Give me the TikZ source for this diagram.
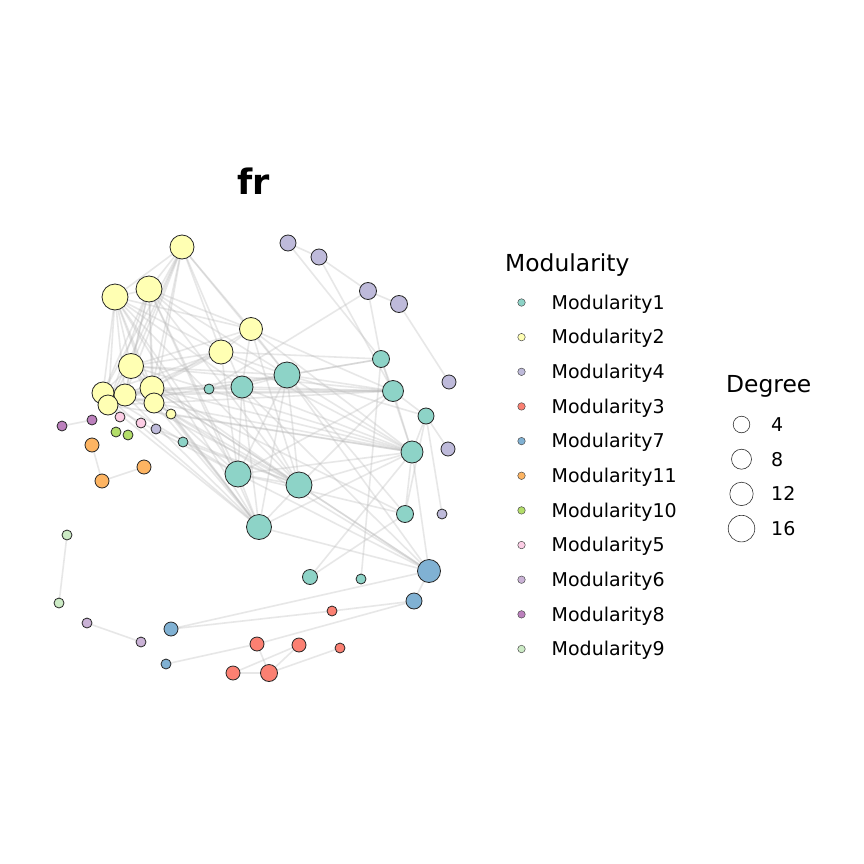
\documentclass[tikz,border=0pt]{standalone}
\usepackage{fontspec}
\setmainfont{DejaVu Sans}
\usetikzlibrary{backgrounds}
\pgfdeclarelayer{canvas}
\pgfsetlayers{canvas,background,main}
\definecolor{cA}{HTML}{8DD3C7}
\definecolor{cB}{HTML}{FFFFB3}
\definecolor{cC}{HTML}{BEBADA}
\definecolor{cD}{HTML}{FB8072}
\definecolor{cE}{HTML}{80B1D3}
\definecolor{cF}{HTML}{FDB462}
\definecolor{cG}{HTML}{B3DE69}
\definecolor{cH}{HTML}{FCCDE5}
\definecolor{cI}{HTML}{CAB2D6}
\definecolor{cJ}{HTML}{BC80BD}
\definecolor{cK}{HTML}{CCEBC5}
\definecolor{edgegray}{RGB}{185,185,185}
\tikzset{
  nd/.style={circle, draw=black!85, line width=0.8pt, inner sep=0pt, outer sep=0pt},
  edge/.style={draw=edgegray, line width=1.6pt, opacity=0.33},
  lg/.style={circle, draw=black!70, line width=0.5pt, inner sep=0pt, minimum size=7.5pt},
  dg/.style={circle, draw=black!80, line width=0.6pt, inner sep=0pt, fill=white},
  lbl/.style={anchor=base west, inner sep=0pt, font=\fontsize{19}{21}\selectfont},
  ttl/.style={anchor=base west, inner sep=0pt, font=\fontsize{23.4}{26}\selectfont}
}
\begin{document}
\begin{tikzpicture}[x=1pt,y=-1pt]
\useasboundingbox (0,0) rectangle (864,864);
\begin{pgfonlayer}{canvas}
\fill[white] (0,0) rectangle (864,864);
\end{pgfonlayer}
% title
\node[anchor=base, inner sep=0pt, font=\bfseries\fontsize{35}{40}\selectfont] (title) at (254,194) {fr};
% yellow (Modularity2)
\node[nd, fill=cB, minimum size=24] (Y1) at (182,247) {};
\node[nd, fill=cB, minimum size=26] (Y2) at (115,297) {};
\node[nd, fill=cB, minimum size=26] (Y3) at (149,289) {};
\node[nd, fill=cB, minimum size=23] (Y4) at (251,329) {};
\node[nd, fill=cB, minimum size=24] (Y5) at (221,352) {};
\node[nd, fill=cB, minimum size=25] (Y6) at (131,366) {};
\node[nd, fill=cB, minimum size=22] (Y7) at (103,393) {};
\node[nd, fill=cB, minimum size=22] (Y8) at (125,395) {};
\node[nd, fill=cB, minimum size=24] (Y9) at (152,388) {};
\node[nd, fill=cB, minimum size=20] (Y10) at (108,405) {};
\node[nd, fill=cB, minimum size=20] (Y11) at (154,403) {};
\node[nd, fill=cB, minimum size=10] (Y12) at (171,414) {};
% teal (Modularity1)
\node[nd, fill=cA, minimum size=10] (T1) at (209,389) {};
\node[nd, fill=cA, minimum size=22] (T2) at (242,387) {};
\node[nd, fill=cA, minimum size=26] (T3) at (287,375) {};
\node[nd, fill=cA, minimum size=17] (T4) at (381,359) {};
\node[nd, fill=cA, minimum size=21] (T5) at (393,391) {};
\node[nd, fill=cA, minimum size=16] (T6) at (426,416) {};
\node[nd, fill=cA, minimum size=22] (T7) at (412,452) {};
\node[nd, fill=cA, minimum size=26] (T8) at (238,474) {};
\node[nd, fill=cA, minimum size=26] (T9) at (299,485) {};
\node[nd, fill=cA, minimum size=25] (T10) at (259,527) {};
\node[nd, fill=cA, minimum size=17] (T11) at (405,514) {};
\node[nd, fill=cA, minimum size=10] (T12) at (183,442) {};
\node[nd, fill=cA, minimum size=15] (T13) at (310,577) {};
\node[nd, fill=cA, minimum size=10] (T14) at (361,579) {};
% lavender (Modularity4)
\node[nd, fill=cC, minimum size=16] (L1) at (288,243) {};
\node[nd, fill=cC, minimum size=16] (L2) at (319,257) {};
\node[nd, fill=cC, minimum size=17] (L3) at (368,291) {};
\node[nd, fill=cC, minimum size=17] (L4) at (399,304) {};
\node[nd, fill=cC, minimum size=14] (L5) at (449,382) {};
\node[nd, fill=cC, minimum size=14] (L6) at (448,449) {};
\node[nd, fill=cC, minimum size=10] (L7) at (442,514) {};
\node[nd, fill=cC, minimum size=10] (L8) at (156,429) {};
% red (Modularity3)
\node[nd, fill=cD, minimum size=10] (R1) at (332,611) {};
\node[nd, fill=cD, minimum size=14] (R2) at (257,644) {};
\node[nd, fill=cD, minimum size=14] (R3) at (299,645) {};
\node[nd, fill=cD, minimum size=10] (R4) at (340,648) {};
\node[nd, fill=cD, minimum size=14] (R5) at (233,673) {};
\node[nd, fill=cD, minimum size=17] (R6) at (269,673) {};
% blue (Modularity7)
\node[nd, fill=cE, minimum size=23] (B1) at (429,571) {};
\node[nd, fill=cE, minimum size=16] (B2) at (414,601) {};
\node[nd, fill=cE, minimum size=14] (B3) at (171,629) {};
\node[nd, fill=cE, minimum size=10] (B4) at (166,664) {};
% others
\node[nd, fill=cF, minimum size=14] (O1) at (92,445) {};
\node[nd, fill=cF, minimum size=14] (O2) at (144,467) {};
\node[nd, fill=cF, minimum size=14] (O3) at (102,481) {};
\node[nd, fill=cG, minimum size=10] (G1) at (116,432) {};
\node[nd, fill=cG, minimum size=10] (G2) at (128,435) {};
\node[nd, fill=cH, minimum size=10] (P1) at (120,417) {};
\node[nd, fill=cH, minimum size=10] (P2) at (141,423) {};
\node[nd, fill=cI, minimum size=10] (S1) at (87,623) {};
\node[nd, fill=cI, minimum size=10] (S2) at (141,642) {};
\node[nd, fill=cJ, minimum size=10] (M1) at (92,420) {};
\node[nd, fill=cJ, minimum size=10] (M2) at (62,426) {};
\node[nd, fill=cK, minimum size=10] (N1) at (67,535) {};
\node[nd, fill=cK, minimum size=10] (N2) at (59,603) {};
% edges
\begin{scope}[on background layer]
\foreach \a/\b in {
 Y1/Y2,Y1/Y3,Y1/Y4,Y1/Y5,Y1/Y6,Y1/Y7,Y1/Y8,Y1/Y9,Y1/Y10,Y1/Y11,Y1/T3,Y1/T2,
 Y2/Y3,Y2/Y4,Y2/Y5,Y2/Y6,Y2/Y7,Y2/Y8,Y2/Y9,Y2/Y10,Y2/Y11,Y2/T2,Y2/T8,Y2/T10,Y2/T9,
 Y3/Y4,Y3/Y5,Y3/Y6,Y3/Y7,Y3/Y8,Y3/Y9,Y3/Y10,Y3/Y11,Y3/T3,Y3/T9,Y3/T8,Y3/T10,
 Y4/Y5,Y4/Y6,Y4/Y9,Y4/T3,Y4/T5,Y4/T9,Y4/T7,Y4/T2,
 Y5/Y6,Y5/Y7,Y5/Y8,Y5/Y9,Y5/T3,Y5/T4,Y5/T7,Y5/T8,
 Y6/Y7,Y6/Y8,Y6/Y9,Y6/Y10,Y6/Y11,Y6/T3,Y6/T5,Y6/T9,Y6/T10,Y6/T7,
 Y7/Y8,Y7/Y9,Y7/Y10,Y7/Y11,Y7/T8,Y7/T10,Y7/T2,Y7/T5,
 Y8/Y9,Y8/Y10,Y8/Y11,Y8/T3,Y8/T9,Y8/T10,Y8/T5,
 Y9/Y10,Y9/Y11,Y9/T7,Y9/T9,Y9/T10,Y9/B1,Y9/T5,Y9/T11,
 Y10/Y11,Y10/T8,Y10/T10,Y10/T3,Y10/T7,
 Y11/T9,Y11/T10,Y11/T7,Y11/B1,Y11/T5,
 Y12/T8,Y12/T7,Y12/T10,
 T1/L3,T1/T3,
 T2/T3,T2/T8,T2/T9,T2/T10,T2/T5,T2/T7,T2/B1,
 T3/T4,T3/T4,T3/T5,T3/T7,T3/T8,T3/T9,T3/T10,T3/T6,T3/B1,T3/T11,
 T4/L1,T4/L3,T4/T14,T4/T5,T4/T7,
 T5/L2,T5/T7,T5/T8,T5/T9,T5/T6,
 T6/T7,T6/L6,T6/L7,T6/T11,
 T7/T8,T7/T9,T7/T10,T7/T11,T7/B1,T7/T13,
 T8/T9,T8/T10,T8/B1,T8/T11,
 T9/T10,T9/B1,
 T10/B1,T11/T13,T12/T9,L8/T9,
 L1/L2,L2/L3,L3/L4,L4/L5,
 B1/B2,B3/B1,B3/R1,R1/B2,R2/B2,B4/R2,
 R2/R6,R5/R6,R5/R3,R6/R3,R6/R4,
 S1/S2,N1/N2,M1/M2,O1/O3,O3/O2}
 \draw[edge] (\a) -- (\b);
\end{scope}
% Modularity legend
\node[ttl] (modt) at (505,271) {Modularity};
\foreach \i/\c/\t [count=\k from 0] in {1/cA/1,2/cB/2,3/cC/4,4/cD/3,5/cE/7,6/cF/11,7/cG/10,8/cH/5,9/cI/6,10/cJ/8,11/cK/9}{
  \node[lg, fill=\c] (lk\i) at (521.5,{302.5+34.65*\k}) {};
  \node[lbl] (lt\i) at (551.5,{309.3+34.65*\k}) {Modularity\t};
}
% Degree legend
\node[ttl] (degt) at (726,392) {Degree};
\foreach \i/\r/\t in {1/8.3/4,2/10/8,3/11.7/12,4/13.3/16}{
  \pgfmathsetmacro{\yy}{424.5+34.7*(\i-1)}
  \node[dg, minimum size=2*\r] (dk\i) at (741.5,\yy) {};
  \node[lbl] (dt\i) at (771,\yy+6.8) {\t};
}
\end{tikzpicture}
\end{document}
